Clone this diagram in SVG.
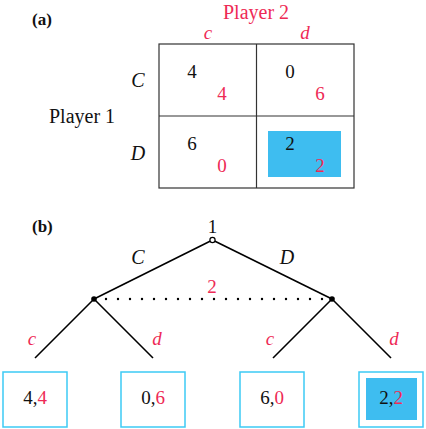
<svg xmlns="http://www.w3.org/2000/svg" width="426" height="429" viewBox="0 0 426 429" font-family="'Liberation Serif', 'DejaVu Serif', serif">
<style>
text{font-family:'Liberation Serif','DejaVu Serif',serif;font-size:19px;fill:#111;text-anchor:middle}
.r{fill:#ee2a55}
.i{font-style:italic}
.b{font-weight:bold;font-size:17px;text-anchor:start}
.lbl{font-size:20px}
.grid{fill:none;stroke:#333;stroke-width:1.2}
.hl{fill:#3ebdf0}
.box{fill:#fff;stroke:#3ccaf5;stroke-width:1.5}
.edge{stroke:#000;stroke-width:1.6;fill:none}
</style>
<rect width="426" height="429" fill="#fff"/>
<g id="panel-a">
<text class="b" x="32" y="25">(a)</text>
<text class="r lbl" x="256" y="19">Player 2</text>
<text class="r i" x="208" y="39">c</text>
<text class="r i" x="305" y="39">d</text>
<text class="lbl" x="82" y="123">Player 1</text>
<text class="i lbl" x="138" y="87">C</text>
<text class="i lbl" x="138" y="160">D</text>
<g id="matrix">
<rect class="hl" x="268" y="131" width="73" height="46"/>
<rect class="grid" x="159" y="44" width="195" height="144"/>
<line class="grid" x1="159" y1="116" x2="354" y2="116"/>
<line class="grid" x1="256.5" y1="44" x2="256.5" y2="188"/>
</g>
<g id="cell-Cc"><text x="192" y="78">4</text><text class="r" x="222" y="100">4</text></g>
<g id="cell-Cd"><text x="290" y="78">0</text><text class="r" x="320" y="100">6</text></g>
<g id="cell-Dc"><text x="192" y="150">6</text><text class="r" x="222" y="172">0</text></g>
<g id="cell-Dd"><text x="290" y="150">2</text><text class="r" x="320" y="172">2</text></g>
</g>
<g id="panel-b">
<text class="b" x="32" y="232">(b)</text>
<g id="connectors">
<line class="edge" x1="212.5" y1="240" x2="94" y2="299"/>
<line class="edge" x1="212.5" y1="240" x2="332" y2="299"/>
<line class="edge" x1="94" y1="299" x2="35" y2="358"/>
<line class="edge" x1="94" y1="299" x2="153" y2="358"/>
<line class="edge" x1="332" y1="299" x2="273" y2="358"/>
<line class="edge" x1="332" y1="299" x2="391" y2="358"/>
<line x1="106" y1="299" x2="324" y2="299" stroke="#000" stroke-width="2.4" stroke-linecap="round" stroke-dasharray="0 12"/>
<text class="i lbl" x="138" y="264">C</text>
<text class="i lbl" x="287" y="264">D</text>
<text class="r" x="212" y="293">2</text>
<text class="r i" x="32" y="345">c</text>
<text class="r i" x="157" y="345">d</text>
<text class="r i" x="270" y="345">c</text>
<text class="r i" x="394" y="345">d</text>
</g>
<g id="root"><circle cx="212.5" cy="240" r="2.6" fill="#fff" stroke="#000" stroke-width="1.2"/><text x="212.5" y="233">1</text></g>
<g id="node-left"><circle cx="94" cy="299" r="2.8" fill="#000"/></g>
<g id="node-right"><circle cx="332" cy="299" r="2.8" fill="#000"/></g>
<g id="leaf-cc"><rect class="box" x="3" y="372" width="64" height="55"/><text x="35" y="404">4,<tspan class="r">4</tspan></text></g>
<g id="leaf-cd"><rect class="box" x="121" y="372" width="64" height="55"/><text x="153" y="404">0,<tspan class="r">6</tspan></text></g>
<g id="leaf-dc"><rect class="box" x="240" y="372" width="64" height="55"/><text x="272" y="404">6,<tspan class="r">0</tspan></text></g>
<g id="leaf-dd"><rect class="box" x="359" y="372" width="64" height="55"/><rect class="hl" x="366" y="378" width="51" height="42"/><text x="391" y="404">2,<tspan class="r">2</tspan></text></g>
</g>
</svg>
